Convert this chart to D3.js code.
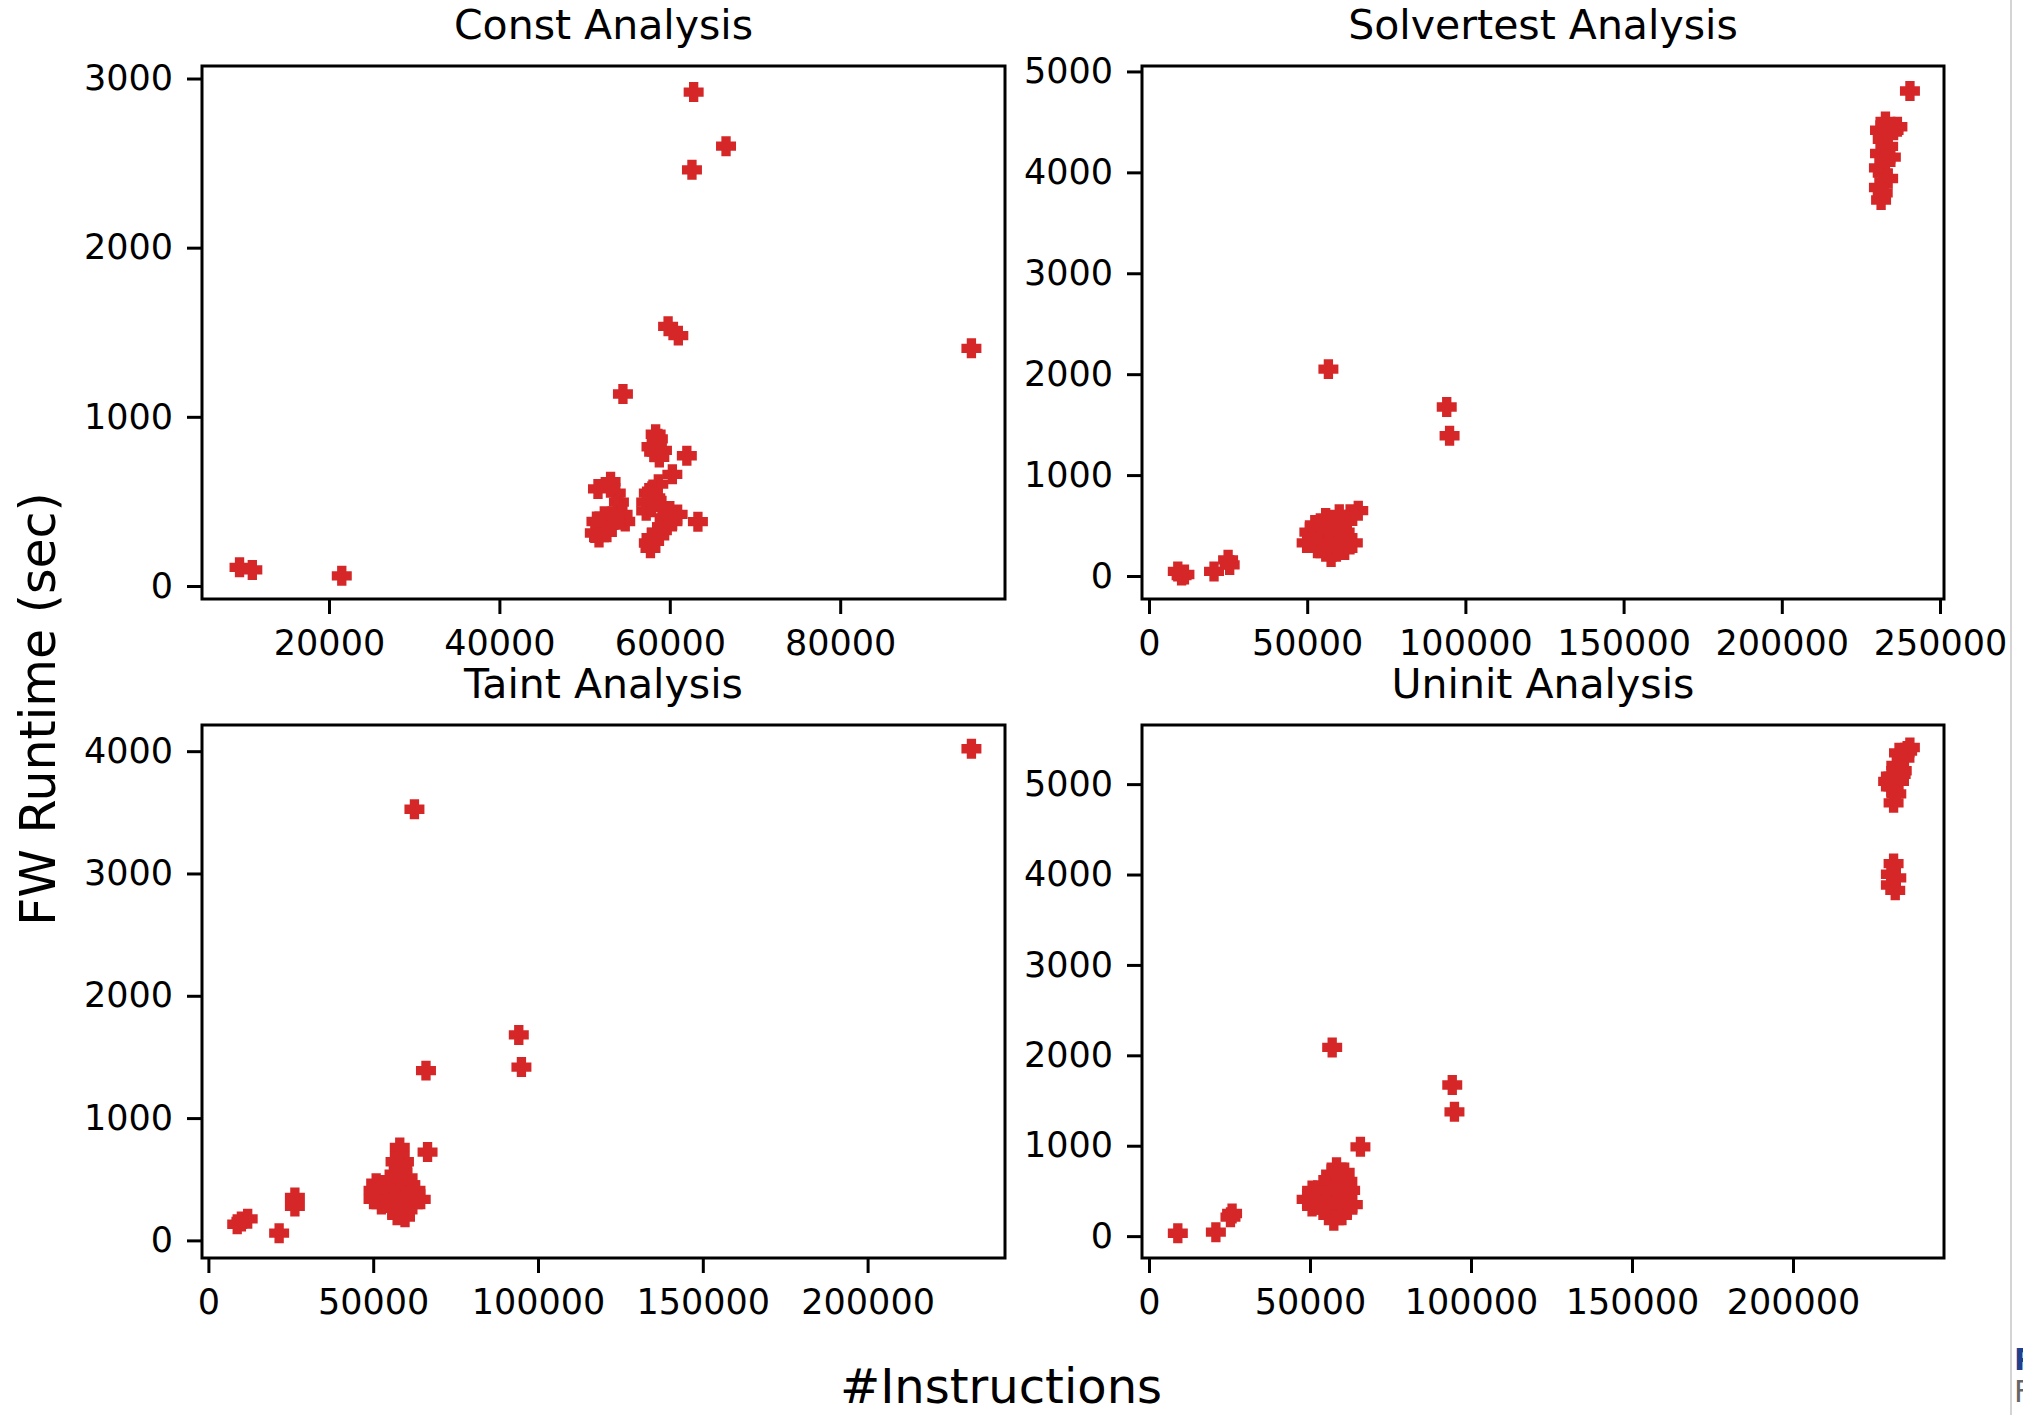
<!DOCTYPE html>
<html>
<head>
<meta charset="utf-8">
<script src="https://cdn.jsdelivr.net/npm/d3@7"></script>
<style>
  html, body { margin: 0; padding: 0; background: #fff; overflow: hidden; }
  text { font-family: "DejaVu Sans", sans-serif; fill: #000; }
</style>
</head>
<body>
<div id="chart"></div>
<script>
// ---- data ----
const titles = ["Const Analysis", "Solvertest Analysis", "Taint Analysis", "Uninit Analysis"]

const constX = [62800, 66600, 62600, 59800, 61000, 95400, 54500, 62000, 60300, 63300, 9500, 11000, 21500,
  58340, 58470, 58160, 58770, 57850, 59080, 58600,
  51570, 53050, 53660, 54030, 53850, 53420, 54160, 52310, 51390, 52800, 52000, 51200, 51690, 52620, 54460, 54770,
  58650, 57540, 57230, 57850, 59080, 60000, 60920, 59390, 60310, 59080, 58470, 57850, 57540, 58160, 57730, 58770, 59700, 57230, 57900, 58300]
const constY = [2920, 2600, 2460, 1535, 1480, 1405, 1135, 770, 660, 380, 110, 95, 60,
  897, 844, 791, 760, 823, 802, 870,
  574, 616, 549, 496, 444, 402, 391, 412, 381, 359, 338, 313, 286, 317, 423, 381,
  602, 549, 496, 465, 475, 444, 423, 402, 381, 349, 317, 286, 254, 265, 223, 296, 359, 444, 560, 520]

const solverX = [240500, 232760, 236540, 231040, 235330, 231900, 233610, 231040, 234470, 232760, 230700, 231900, 233610, 230700, 231900, 231380,
  56700, 94100, 95000,
  66140, 63560, 60130, 55830, 52400, 50680, 49820, 53250, 57550, 54970, 58410, 61840, 64420, 60990, 61840, 59270, 56690, 62700, 54110, 51540, 57900,
  9100, 11200, 10300, 20550, 25000, 25500]
const solverY = [4806, 4505, 4452, 4417, 4417, 4328, 4257, 4187, 4151, 4133, 4045, 3992, 3939, 3850, 3797, 3726,
  2050, 1675, 1390,
  647, 611, 611, 576, 505, 434, 328, 275, 187, 364, 399, 434, 328, 311, 258, 505, 470, 541, 275, 364, 240,
  45, 15, 5, 45, 160, 110]

const taintX = [231500, 62510, 94170, 94970, 66010, 66490,
  58060, 58060, 57740, 58850, 56470, 55670, 60440, 61240, 53280, 50900, 50100, 50100, 52490, 54880, 58060, 61240, 64420, 62030, 58850, 57260, 59650, 55670, 62830, 56780, 59330,
  10010, 11920, 8740, 21460, 26240, 26240]
const taintY = [4020, 3525, 1680, 1417, 1388, 722,
  760, 687, 614, 570, 541, 482, 511, 453, 453, 468, 409, 336, 293, 336, 395, 366, 336, 293, 249, 205, 190, 263, 409, 643, 643,
  155, 176, 132, 59, 351, 278]

const uninitX = [236300, 232920, 234610, 232080, 233770, 230400, 232920, 230400, 232080, 231240, 235450, 229550, 233430,
  231240, 230400, 232080, 230400, 231750,
  56890, 94180, 94860, 65660,
  58240, 60770, 61610, 62460, 56550, 54020, 50640, 48950, 50640, 54020, 56550, 57390, 59920, 61610, 63300, 59080, 55700, 58240, 53170, 52330, 59920, 54860,
  8950, 20770, 25800, 25300]
const uninitY = [5405, 5346, 5287, 5208, 5148, 5089, 5030, 4971, 4892, 4793, 5366, 5030, 5109,
  4121, 4003, 3963, 3884, 3825,
  2087, 1672, 1375, 988,
  763, 704, 605, 506, 684, 566, 506, 407, 329, 289, 250, 171, 230, 309, 348, 407, 447, 526, 447, 348, 486, 348,
  32, 44, 250, 210]

// axis limits and ticks
const xLimits = [[5094, 99343], [-2212, 251264], [-1942, 241687], [-2174, 246894]]
const yLimits = [[-77, 3074], [-228, 5054], [-144, 4214], [-242, 5654]]
const xTicks = [
  [20000, 40000, 60000, 80000],
  [0, 50000, 100000, 150000, 200000, 250000],
  [0, 50000, 100000, 150000, 200000],
  [0, 50000, 100000, 150000, 200000]
]
const yTicks = [
  [0, 1000, 2000, 3000],
  [0, 1000, 2000, 3000, 4000, 5000],
  [0, 1000, 2000, 3000, 4000],
  [0, 1000, 2000, 3000, 4000, 5000]
]

const seriesX = [constX, solverX, taintX, uninitX]
const seriesY = [constY, solverY, taintY, uninitY]

// ---- layout ----
const W = 2023, H = 1415
const cols = [[202, 1005], [1142, 1944]]
const rows = [[66, 599], [725, 1258]]
const red = "#d62728"

const svg = d3.select('#chart')
  .append('svg')
  .attr('width', W)
  .attr('height', H)
  .attr('viewBox', [0, 0, W, H])

const marker = d3.symbol().type(d3.symbolCross).size(142)

titles.forEach((title, i) => {
  const [x0, x1] = cols[i % 2]
  const [y0, y1] = rows[Math.floor(i / 2)]

  const x = d3.scaleLinear().domain(xLimits[i]).range([x0, x1])
  const y = d3.scaleLinear().domain(yLimits[i]).range([y1, y0])

  const g = svg.append('g')

  // points
  const pts = d3.zip(seriesX[i], seriesY[i])
  g.append('g')
    .selectAll('path')
    .data(pts)
    .join('path')
    .attr('transform', d => `translate(${x(d[0])},${y(d[1])})`)
    .attr('d', marker)
    .attr('fill', red)
    .attr('stroke', red)
    .attr('stroke-width', 4)

  // axes
  const xa = g.append('g')
    .attr('transform', `translate(0,${y1})`)
    .call(d3.axisBottom(x).tickValues(xTicks[i]).tickFormat(d3.format('d')).tickSize(15).tickPadding(16))
  const ya = g.append('g')
    .attr('transform', `translate(${x0},0)`)
    .call(d3.axisLeft(y).tickValues(yTicks[i]).tickFormat(d3.format('d')).tickSize(15).tickPadding(14))

  for (const a of [xa, ya]) {
    a.select('.domain').remove()
    a.selectAll('line').attr('stroke', '#000').attr('stroke-width', 3)
    a.selectAll('text')
      .attr('fill', '#000')
      .style('font-family', '"DejaVu Sans", sans-serif')
      .style('font-size', '35px')
  }

  // frame
  g.append('rect')
    .attr('x', x0).attr('y', y0)
    .attr('width', x1 - x0).attr('height', y1 - y0)
    .attr('fill', 'none')
    .attr('stroke', '#000')
    .attr('stroke-width', 3)

  // title
  g.append('text')
    .attr('x', (x0 + x1) / 2)
    .attr('y', y0 - 27)
    .attr('text-anchor', 'middle')
    .style('font-size', '41px')
    .text(title)
})

// shared labels
svg.append('text')
  .attr('x', 1001)
  .attr('y', 1403)
  .attr('text-anchor', 'middle')
  .style('font-size', '48px')
  .text('#Instructions')

svg.append('text')
  .attr('transform', 'translate(55,709) rotate(-90)')
  .attr('text-anchor', 'middle')
  .style('font-size', '49px')
  .text('FW Runtime (sec)')

// edge of the neighbouring page in the screenshot
svg.append('line')
  .attr('x1', 2011).attr('x2', 2011)
  .attr('y1', 0).attr('y2', H)
  .attr('stroke', '#d4d4d4')
  .attr('stroke-width', 2)
svg.append('text')
  .attr('x', 2014).attr('y', 1370)
  .style('font-size', '30px')
  .style('font-weight', 'bold')
  .style('fill', '#1f3f8f')
  .text('R')
svg.append('text')
  .attr('x', 2014).attr('y', 1402)
  .style('font-size', '30px')
  .style('fill', '#666')
  .text('F')
</script>
</body>
</html>
